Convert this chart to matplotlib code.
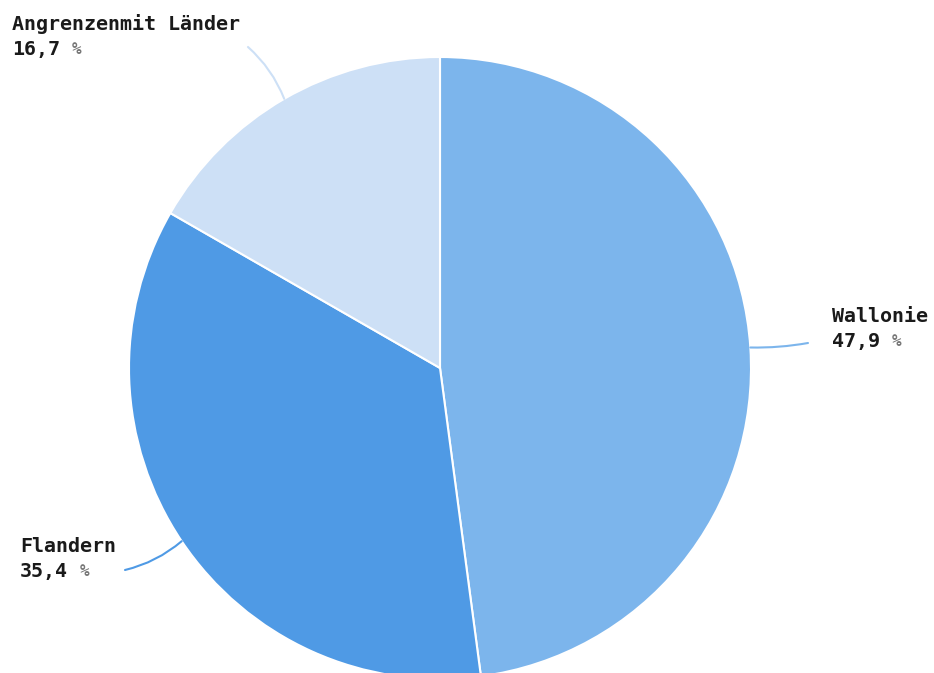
import numpy as np
import matplotlib
matplotlib.use("Agg")
import matplotlib.pyplot as plt

# Share of each region, drawn clockwise from 12 o'clock
regions = ["Wallonie", "Flandern", "Angrenzenmit Länder"]
shares = [47.9, 35.4, 16.7]
colors = ["#7cb5ec", "#4f9ae5", "#cde0f6"]

# label anchor (figure px, top-left origin) and leader end point
label_pos = [(832, 317), (20, 546), (12, 24)]
leader_end = [(808, 343), (125, 570), (248, 47)]
leader_rad = [-0.05, 0.12, -0.12]

W, H = 934, 673
FS = 14.4
LINE_GAP = 25


def fig_frac(px, py):
    return px / W, 1 - py / H


fig = plt.figure(figsize=(W / 100, H / 100), dpi=100)
# pie centre at (440, 368) px with a 311 px radius; it runs past the bottom edge
ax = fig.add_axes([129 / W, (H - 368 - 311) / H, 622 / W, 622 / H])
wedges, _ = ax.pie(
    shares,
    colors=colors,
    startangle=90,
    counterclock=False,
    radius=1.0,
    wedgeprops=dict(edgecolor="white", linewidth=1.5),
)
ax.set_xlim(-1, 1)
ax.set_ylim(-1, 1)
ax.set_aspect("equal")
ax.axis("off")

for wedge, name, share, col, (lx, ly), (ex, ey), rad in zip(
    wedges, regions, shares, colors, label_pos, leader_end, leader_rad
):
    mid = np.deg2rad((wedge.theta1 + wedge.theta2) / 2)
    edge = (np.cos(mid), np.sin(mid))
    ax.annotate(
        "",
        xy=edge,
        xycoords="data",
        xytext=fig_frac(ex, ey),
        textcoords="figure fraction",
        arrowprops=dict(
            arrowstyle="-",
            color=col,
            lw=1.5,
            shrinkA=0,
            shrinkB=0,
            connectionstyle=f"arc3,rad={rad}",
        ),
        annotation_clip=False,
    )

    value = f"{share:.1f}".replace(".", ",")
    tx, ty = fig_frac(lx, ly)
    fig.text(tx, ty, name, fontsize=FS, family="DejaVu Sans Mono",
             fontweight="bold", color="#1a1a1a", va="center", ha="left")
    tx2, ty2 = fig_frac(lx, ly + LINE_GAP)
    fig.text(tx2, ty2, value, fontsize=FS, family="DejaVu Sans Mono",
             fontweight="bold", color="#1a1a1a", va="center", ha="left")
    # percent sign sits one blank cell after the number, in grey
    char_w = 0.602 * FS * 100 / 72
    tx3, _ = fig_frac(lx + char_w * (len(value) + 1), 0)
    fig.text(tx3, ty2, "%", fontsize=FS * 0.8, family="DejaVu Sans Mono",
             fontweight="bold", color="#777777", va="center", ha="left")

fig.savefig("out.png", dpi=100)
